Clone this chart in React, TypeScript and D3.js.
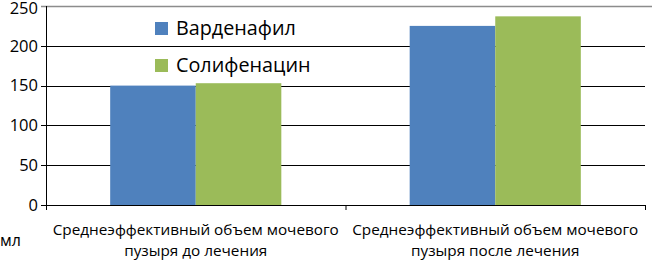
import { useRef, useEffect } from "react";
import * as d3 from "d3";

const categories = [
  ["Среднеэффективный объем мочевого", "пузыря до лечения"],
  ["Среднеэффективный объем мочевого", "пузыря после лечения"],
];
const seriesNames = ["Варденафил", "Солифенацин"];
const vardenafil = [150, 225];
const solifenacin = [153, 237];
const yTicks = [0, 50, 100, 150, 200, 250];
const unitLabel = "мл";

const COLORS = {
  series: ["#4f81bd", "#9bbb59"],
  grid: "#000000",
  top: "#8c8c8c",
  axis: "#000000",
  text: "#000000",
};

const FONT = "'Open Sans', sans-serif";

export default function App() {
  const svgRef = useRef<SVGSVGElement>(null);

  useEffect(() => {
    document.body.style.margin = "0";
    if (!svgRef.current) return;
    const width = 652;
    const height = 261;
    const svg = d3.select(svgRef.current);
    svg.selectAll("*").remove();
    svg.attr("width", width).attr("height", height).attr("viewBox", `0 0 ${width} ${height}`);

    const left = 46;
    const right = 645;
    const top = 6;
    const bottom = 205;

    const keys = categories.map((_, i) => String(i));
    const x0 = d3.scaleBand<string>().domain(keys).range([left, right]).padding(0);
    const x1 = d3
      .scaleBand<string>()
      .domain(seriesNames)
      .range([0, x0.bandwidth()])
      .paddingInner(0)
      .paddingOuter(0.75);
    const y = d3.scaleLinear().domain([0, 250]).range([bottom, top]);

    // Grid
    svg
      .append("g")
      .selectAll("line")
      .data(yTicks.filter((t) => t > 0 && t < 250))
      .enter()
      .append("line")
      .attr("x1", left - 5)
      .attr("x2", right)
      .attr("y1", (d) => Math.round(y(d)) + 0.5)
      .attr("y2", (d) => Math.round(y(d)) + 0.5)
      .attr("stroke", COLORS.grid)
      .attr("stroke-width", 1);

    svg
      .append("line")
      .attr("x1", left - 5)
      .attr("x2", width)
      .attr("y1", Math.round(y(250)) + 0.5)
      .attr("y2", Math.round(y(250)) + 0.5)
      .attr("stroke", COLORS.top)
      .attr("stroke-width", 1.5);

    // Bars
    const rows = categories.map((_, i) => ({
      key: String(i),
      values: [vardenafil[i], solifenacin[i]],
    }));
    const groups = svg
      .append("g")
      .selectAll("g")
      .data(rows)
      .enter()
      .append("g")
      .attr("transform", (d) => `translate(${x0(d.key)},0)`);
    groups
      .selectAll("rect")
      .data((d) => d.values.map((v, j) => ({ name: seriesNames[j], value: v, j })))
      .enter()
      .append("rect")
      .attr("x", (d) => x1(d.name)!)
      .attr("width", x1.bandwidth())
      .attr("y", (d) => y(d.value))
      .attr("height", (d) => bottom - y(d.value))
      .attr("fill", (d) => COLORS.series[d.j]);

    // Axes
    svg
      .append("line")
      .attr("x1", left + 0.5)
      .attr("x2", left + 0.5)
      .attr("y1", top)
      .attr("y2", bottom + 5)
      .attr("stroke", COLORS.axis);
    svg
      .append("line")
      .attr("x1", left - 5)
      .attr("x2", right)
      .attr("y1", bottom + 0.5)
      .attr("y2", bottom + 0.5)
      .attr("stroke", COLORS.axis);
    const xTickPos = [left, ...keys.map((k) => x0(k)! + x0.bandwidth())];
    svg
      .append("g")
      .selectAll("line")
      .data(xTickPos)
      .enter()
      .append("line")
      .attr("x1", (d) => d + 0.5)
      .attr("x2", (d) => d + 0.5)
      .attr("y1", bottom)
      .attr("y2", bottom + 5)
      .attr("stroke", COLORS.axis);

    // Y tick labels
    svg
      .append("g")
      .selectAll("text")
      .data(yTicks)
      .enter()
      .append("text")
      .attr("x", left - 8)
      .attr("y", (d) => Math.max(y(d), 8))
      .attr("dy", "0.35em")
      .attr("text-anchor", "end")
      .attr("font-family", FONT)
      .attr("font-size", 16.5)
      .attr("fill", COLORS.text)
      .text((d) => String(d));

    // Category labels
    const catG = svg
      .append("g")
      .selectAll("text")
      .data(categories.map((lines, i) => ({ lines, key: String(i) })))
      .enter()
      .append("text")
      .attr("text-anchor", "middle")
      .attr("font-family", FONT)
      .attr("font-size", 15.3)
      .attr("fill", COLORS.text);
    catG
      .selectAll("tspan")
      .data((d) => d.lines.map((l) => ({ l, cx: x0(d.key)! + x0.bandwidth() / 2 })))
      .enter()
      .append("tspan")
      .attr("x", (d) => d.cx)
      .attr("y", (_, i) => 235 + i * 20.5)
      .text((d) => d.l);

    svg
      .append("text")
      .attr("x", 0)
      .attr("y", 246)
      .attr("font-family", FONT)
      .attr("font-size", 16)
      .attr("fill", COLORS.text)
      .text(unitLabel);

    // Legend
    const legend = svg
      .append("g")
      .selectAll("g")
      .data(seriesNames)
      .enter()
      .append("g")
      .attr("transform", (_, i) => `translate(155,${22 + i * 37})`);
    legend
      .append("rect")
      .attr("width", 13)
      .attr("height", 13)
      .attr("fill", (_, i) => COLORS.series[i]);
    legend
      .append("text")
      .attr("x", 21)
      .attr("y", 6.5)
      .attr("dy", "0.35em")
      .attr("font-family", FONT)
      .attr("font-size", 19.8)
      .attr("fill", COLORS.text)
      .text((d) => d);
  }, []);

  return <svg ref={svgRef} style={{ display: "block" }} />;
}
